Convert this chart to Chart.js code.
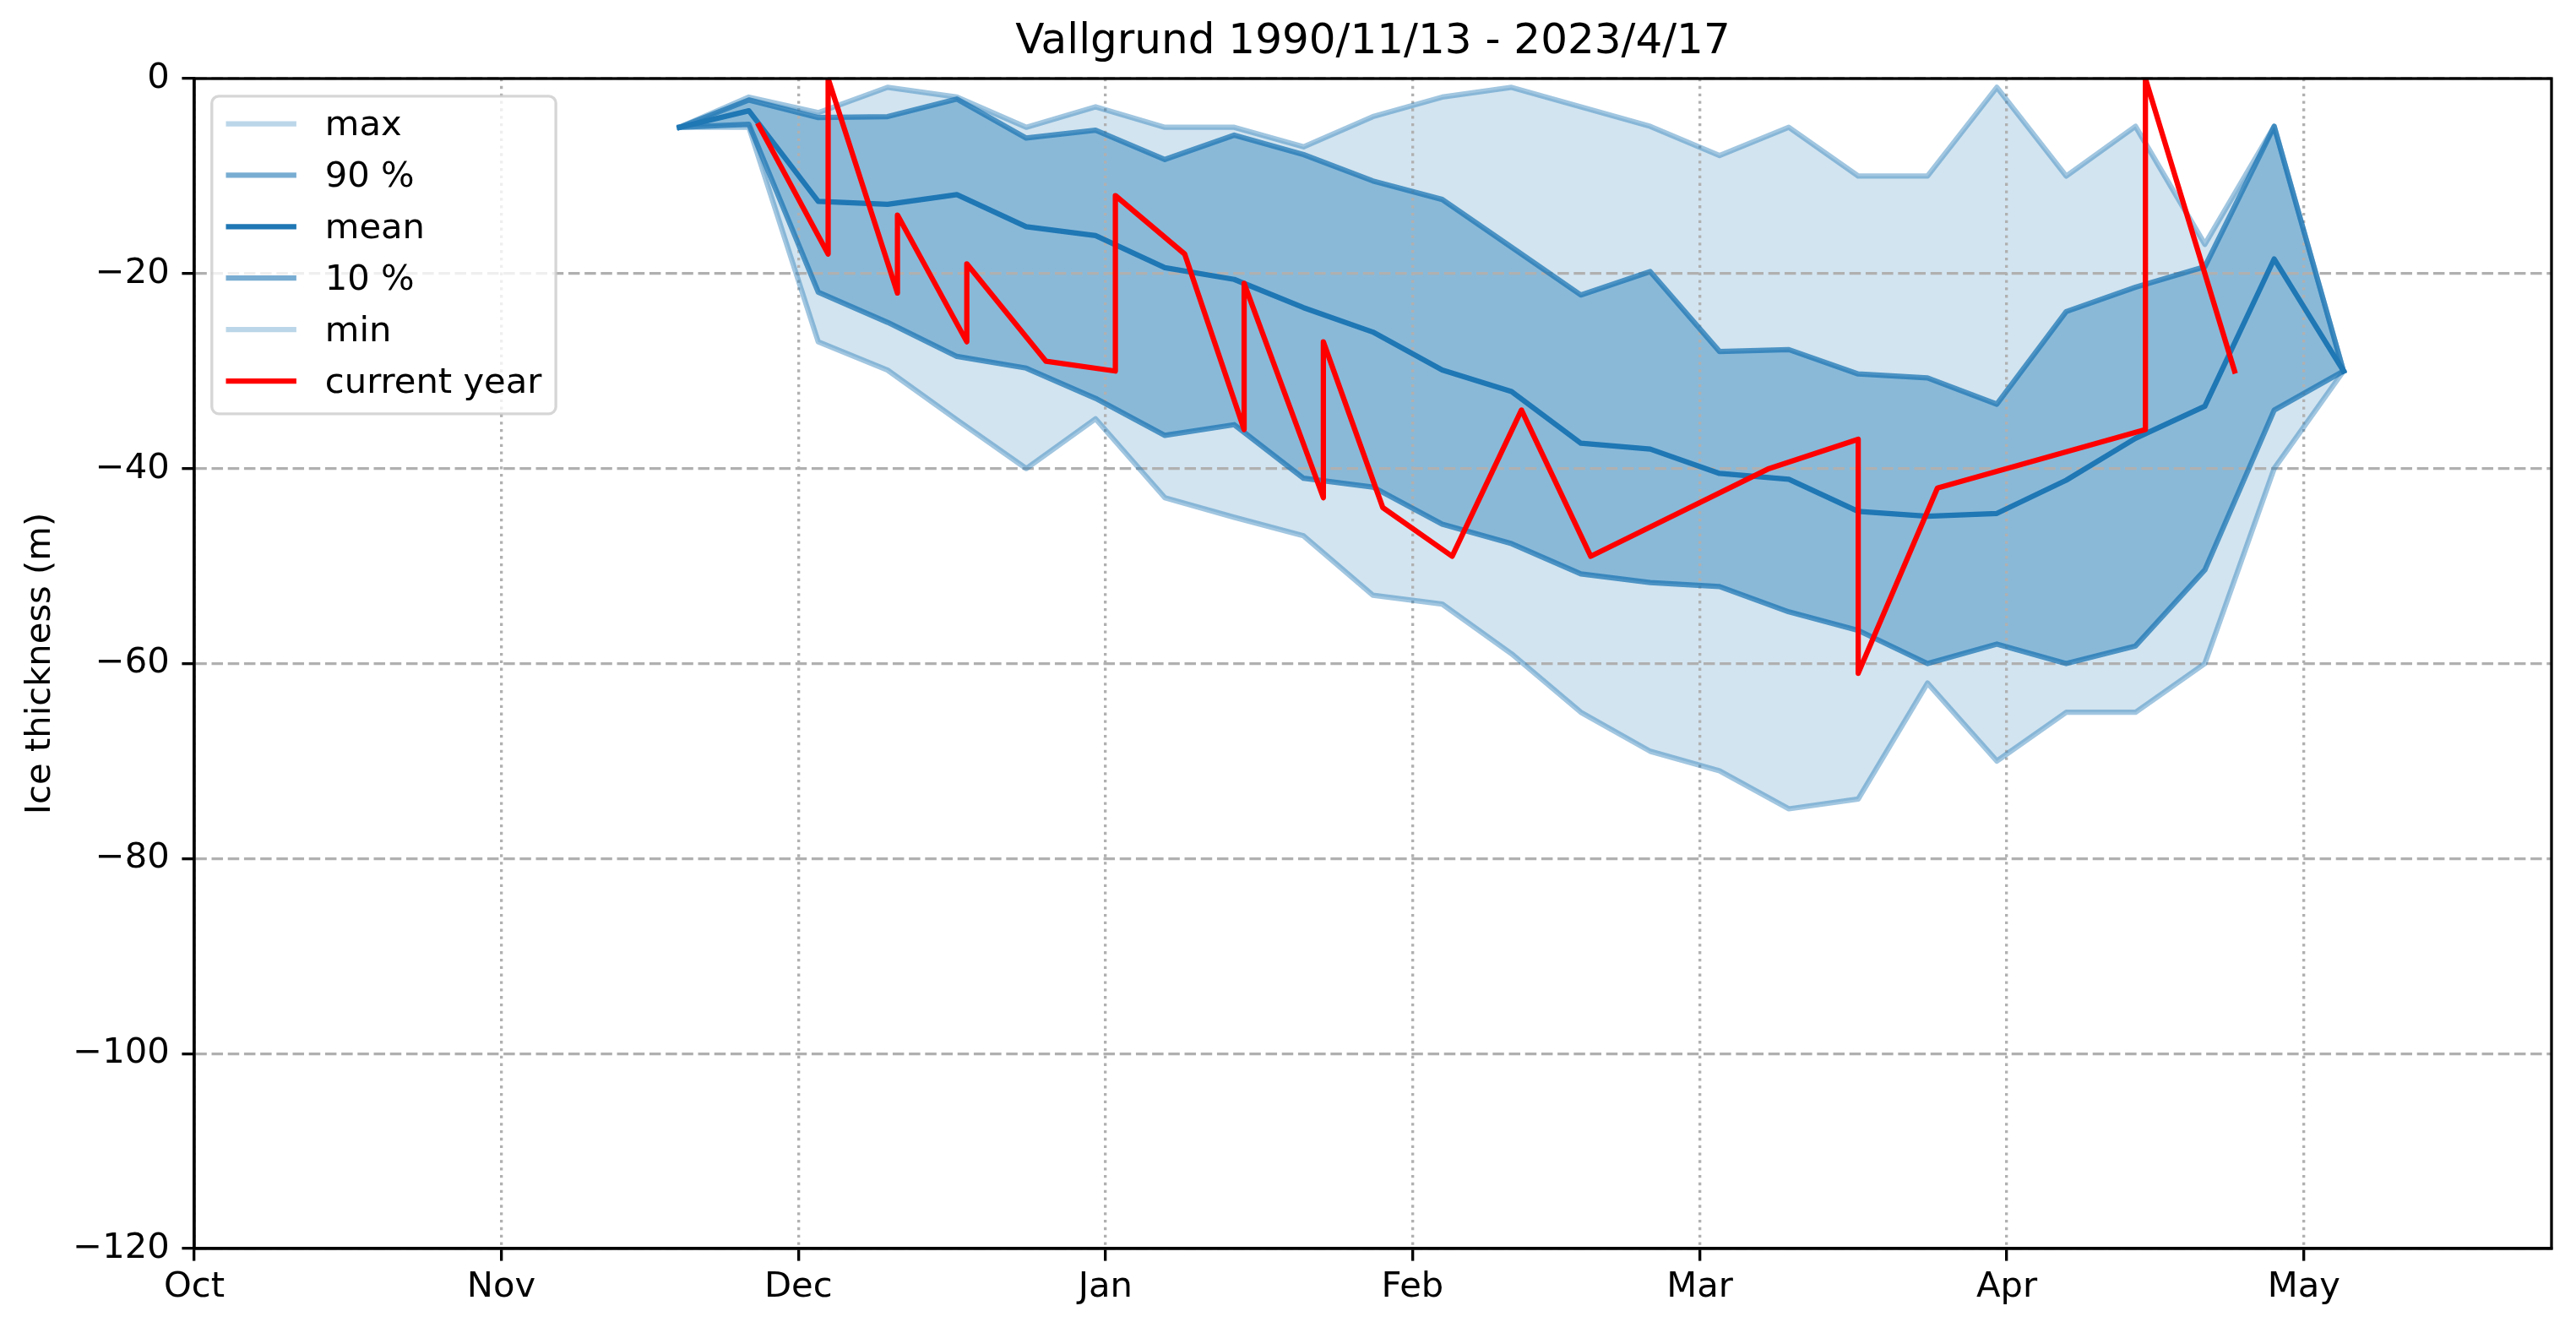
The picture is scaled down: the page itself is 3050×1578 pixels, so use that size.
<!DOCTYPE html>
<html>
<head>
<meta charset="utf-8">
<script src="https://cdn.jsdelivr.net/npm/chart.js"></script>
<style>
html,body{margin:0;padding:0;background:#fff}
canvas{display:block;background:#fff}
</style>
</head>
<body>
<canvas id="c" width="3050" height="1578" style="width:3050px;height:1578px"></canvas>
<script>
// ---- data (x = days since 1 Oct, leap-year calendar) ----
const titleText = 'Vallgrund 1990/11/13 - 2023/4/17';
const yAxisLabel = 'Ice thickness (m)';
const monthDays = [0, 31, 61, 92, 123, 152, 183, 213];
const monthLabels = ['Oct', 'Nov', 'Dec', 'Jan', 'Feb', 'Mar', 'Apr', 'May'];
const yTickValues = [0, -20, -40, -60, -80, -100, -120];
const seriesLabels = ['max', '90 %', 'mean', '10 %', 'min', 'current year'];

const statDays = [49, 56, 63, 70, 77, 84, 91, 98, 105, 112, 119, 126, 133, 140, 147, 154, 161, 168, 175, 182, 189, 196, 203, 210, 217];
const maxVals  = [-5, -1.9, -3.5, -0.9, -1.9, -5.0, -2.9, -5.0, -5.0, -7.0, -3.9, -1.9, -0.9, -2.9, -4.9, -7.9, -5.0, -10.0, -10.0, -0.9, -10.0, -4.9, -17.0, -4.9, -30];
const p90Vals  = [-5, -2.2, -4.0, -3.9, -2.1, -6.1, -5.3, -8.3, -5.8, -7.8, -10.5, -12.4, -17.3, -22.2, -19.8, -28.0, -27.8, -30.3, -30.7, -33.4, -23.9, -21.4, -19.3, -4.9, -30];
const meanVals = [-5, -3.3, -12.6, -12.9, -11.9, -15.2, -16.1, -19.4, -20.6, -23.5, -26.0, -29.9, -32.1, -37.4, -38.0, -40.5, -41.1, -44.4, -44.9, -44.6, -41.2, -36.9, -33.6, -18.5, -30];
const p10Vals  = [-5, -4.7, -21.9, -25.0, -28.5, -29.7, -32.8, -36.6, -35.5, -41.0, -41.9, -45.7, -47.7, -50.8, -51.7, -52.1, -54.7, -56.6, -60.0, -58.0, -60.0, -58.2, -50.4, -34.0, -30];
const minVals  = [-5, -5.0, -27.0, -29.9, -35.0, -40.0, -34.9, -43.0, -45.0, -46.9, -53.0, -53.9, -59.0, -65.0, -69.0, -71.0, -74.9, -73.9, -62.0, -70.0, -65.0, -65.0, -60.0, -40.0, -30];

const curDays = [57, 64, 64, 71, 71, 78, 78, 86, 93, 93, 100, 106, 106, 114, 114, 120, 127, 134, 141, 159, 168, 168, 176, 197, 197, 206];
const curVals = [-4.8, -18, 0, -22, -14, -27, -19, -29, -30, -12, -18, -36, -21, -43, -27, -44, -49, -34, -49, -40, -37, -61, -42, -36, 0, -30];

// ---- helpers ----
const C0 = a => 'rgba(31,119,180,' + a + ')';
const legendColors = [C0(0.3), C0(0.6), C0(1), C0(0.6), C0(0.3), '#ff0000'];
const pts = (xs, ys) => xs.map((x, i) => ({x: x, y: ys[i]}));
const LW = 6.25;
const common = {pointRadius: 0, pointHoverRadius: 0, borderWidth: LW, tension: 0,
  borderJoinStyle: 'round', borderCapStyle: 'square'};

Chart.defaults.font.family = 'DejaVu Sans';
Chart.defaults.color = '#000';

const spinePlugin = {
  id: 'spines',
  afterDatasetsDraw(chart) {
    const ctx = chart.ctx, a = chart.chartArea;
    ctx.save();
    ctx.strokeStyle = '#000';
    ctx.lineWidth = 3.33;
    ctx.setLineDash([]);
    ctx.strokeRect(a.left, a.top, a.right - a.left, a.bottom - a.top);
    ctx.restore();
  }
};

const legendPlugin = {
  id: 'mplLegend',
  afterDraw(chart) {
    const ctx = chart.ctx, a = chart.chartArea;
    const fs = 41.7;
    ctx.save();
    ctx.font = fs + 'px "DejaVu Sans"';
    let maxW = 0;
    chart.data.datasets.forEach(ds => { maxW = Math.max(maxW, ctx.measureText(ds.label).width); });
    const x0 = a.left + 20.8, y0 = a.top + 20.8;
    const w = 134 + maxW + 16.7, h = 376, r = 8.3;
    ctx.beginPath();
    ctx.moveTo(x0 + r, y0);
    ctx.lineTo(x0 + w - r, y0);
    ctx.arcTo(x0 + w, y0, x0 + w, y0 + r, r);
    ctx.lineTo(x0 + w, y0 + h - r);
    ctx.arcTo(x0 + w, y0 + h, x0 + w - r, y0 + h, r);
    ctx.lineTo(x0 + r, y0 + h);
    ctx.arcTo(x0, y0 + h, x0, y0 + h - r, r);
    ctx.lineTo(x0, y0 + r);
    ctx.arcTo(x0, y0, x0 + r, y0, r);
    ctx.closePath();
    ctx.fillStyle = 'rgba(255,255,255,0.8)';
    ctx.fill();
    ctx.lineWidth = 3.33;
    ctx.strokeStyle = 'rgba(204,204,204,0.8)';
    ctx.stroke();
    chart.data.datasets.forEach((ds, i) => {
      const cy = y0 + 32.7 + i * 60.9;
      ctx.beginPath();
      ctx.moveTo(x0 + 16.7, cy);
      ctx.lineTo(x0 + 100.1, cy);
      ctx.strokeStyle = legendColors[i];
      ctx.lineWidth = ds.borderWidth;
      ctx.lineCap = 'butt';
      ctx.stroke();
      ctx.fillStyle = '#000';
      ctx.textAlign = 'left';
      ctx.textBaseline = 'alphabetic';
      ctx.fillText(ds.label, x0 + 134, cy + 13.8);
    });
    ctx.restore();
  }
};

new Chart(document.getElementById('c'), {
  type: 'line',
  data: {
    datasets: [
      Object.assign({label: seriesLabels[0], data: pts(statDays, maxVals), borderColor: C0(0.42), backgroundColor: C0(0.2), fill: '+4', order: 4}, common),
      Object.assign({label: seriesLabels[1], data: pts(statDays, p90Vals), borderColor: C0(0.75), backgroundColor: C0(0.4), fill: '+2', order: 3}, common),
      Object.assign({label: seriesLabels[2], data: pts(statDays, meanVals), borderColor: C0(1), fill: false, order: 2}, common),
      Object.assign({label: seriesLabels[3], data: pts(statDays, p10Vals), borderColor: C0(0.75), fill: false, order: 3}, common),
      Object.assign({label: seriesLabels[4], data: pts(statDays, minVals), borderColor: C0(0.42), fill: false, order: 4}, common),
      Object.assign({label: seriesLabels[5], data: pts(curDays, curVals), borderColor: '#ff0000', fill: false, order: 1}, common)
    ]
  },
  options: {
    responsive: false,
    devicePixelRatio: 1,
    animation: false,
    events: [],
    layout: {padding: {left: 0, right: 29, top: 0, bottom: 0}},
    plugins: {
      legend: {display: false},
      tooltip: {enabled: false},
      filler: {drawTime: 'beforeDraw', propagate: false},
      title: {
        display: true, text: titleText, fullSize: false, color: '#000',
        font: {size: 50, weight: 'normal', family: 'DejaVu Sans', lineHeight: 1.2},
        padding: {top: 20, bottom: 13}
      }
    },
    scales: {
      x: {
        type: 'linear', min: 0, max: 238,
        afterFit(s) { s.height = 100; },
        afterBuildTicks(s) { s.ticks = monthDays.map(v => ({value: v})); },
        ticks: {
          autoSkip: false, maxRotation: 0, minRotation: 0, color: '#000',
          font: {size: 41.7}, padding: 6.5,
          callback: (v, i) => monthLabels[i]
        },
        grid: {color: '#b0b0b0', lineWidth: 3.33, drawTicks: true, tickLength: 14.6, tickColor: '#000', tickWidth: 3.33},
        border: {display: true, color: '#000', width: 3.33, dash: [3.33, 5.5]}
      },
      y: {
        min: -120, max: 0,
        afterFit(s) { s.width = 230; },
        afterBuildTicks(s) { s.ticks = yTickValues.map(v => ({value: v})); },
        ticks: {
          color: '#000', font: {size: 41.7}, padding: 14.6,
          callback: v => (v < 0 ? '\u2212' + Math.abs(v) : String(v))
        },
        grid: {color: '#b0b0b0', lineWidth: 3.33, drawTicks: true, tickLength: 14.6, tickColor: '#000', tickWidth: 3.33},
        border: {display: true, color: '#000', width: 3.33, dash: [13.5, 5.7]},
        title: {display: true, text: yAxisLabel, color: '#000', font: {size: 41.7}, padding: {top: 23, bottom: 0}}
      }
    }
  },
  plugins: [spinePlugin, legendPlugin]
});
</script>
</body>
</html>
